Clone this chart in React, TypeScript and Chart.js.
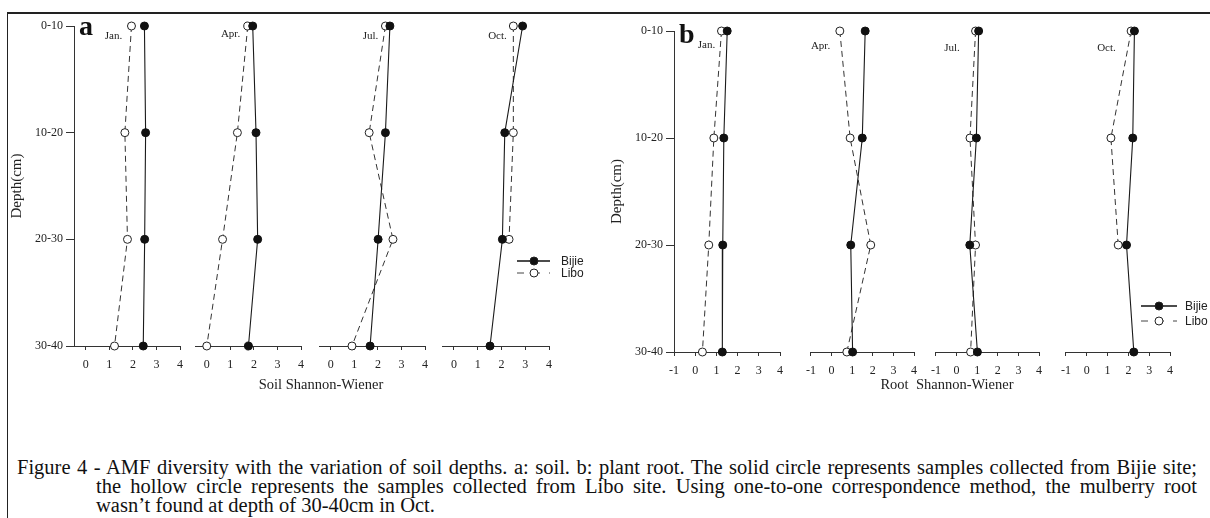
import React, { useEffect, useRef } from "react";
import { Chart, registerables } from "chart.js";

Chart.register(...registerables);

// ---------- data ----------
const depthLabels = ["0-10", "10-20", "20-30", "30-40"];
const monthLabels = ["Jan.", "Apr.", "Jul.", "Oct."];
const seriesNames = ["Bijie", "Libo"];
const soilTicks = [0, 1, 2, 3, 4];
const rootTicks = [-1, 0, 1, 2, 3, 4];

const soilBijieJan = [2.49, 2.54, 2.5, 2.44];
const soilLiboJan = [1.94, 1.66, 1.77, 1.22];
const soilBijieApr = [1.95, 2.09, 2.16, 1.77];
const soilLiboApr = [1.74, 1.3, 0.67, 0.0];
const soilBijieJul = [2.51, 2.32, 2.01, 1.67];
const soilLiboJul = [2.32, 1.63, 2.64, 0.9];
const soilBijieOct = [2.89, 2.14, 2.04, 1.52];
const soilLiboOct = [2.5, 2.5, 2.32, null];

const rootBijieJan = [1.51, 1.35, 1.3, 1.28];
const rootLiboJan = [1.24, 0.88, 0.64, 0.34];
const rootBijieApr = [1.63, 1.49, 0.93, 1.02];
const rootLiboApr = [0.4, 0.9, 1.9, 0.74];
const rootBijieJul = [1.07, 0.96, 0.64, 1.01];
const rootLiboJul = [0.92, 0.65, 0.92, 0.68];
const rootBijieOct = [2.29, 2.21, 1.91, 2.26];
const rootLiboOct = [2.13, 1.16, 1.51, null];

const yAxisTitle = "Depth(cm)";
const soilTitle = "Soil Shannon-Wiener";
const rootTitle = "Root  Shannon-Wiener";
const captionLines = [
  "Figure 4 - AMF diversity with the variation of soil depths. a: soil. b: plant root. The solid circle represents samples collected from Bijie site;",
  "the hollow circle represents the samples collected from Libo site. Using one-to-one correspondence method, the mulberry root",
  "wasn\u2019t found at depth of 30-40cm in Oct.",
];

// ---------- layout ----------
const SERIF = '"Liberation Serif", "Times New Roman", serif';
const SANS = '"Liberation Sans", Arial, sans-serif';
const AREA_W = 107;
const Y_W = 66;
const X_H = 40;
const PAD_T = 12;

const panels = [
  {
    letter: "a",
    xMin: -0.5,
    ticks: soilTicks,
    lefts: [74, 195, 319, 442],
    top: 26,
    bottom: 346,
    bijie: [soilBijieJan, soilBijieApr, soilBijieJul, soilBijieOct],
    libo: [soilLiboJan, soilLiboApr, soilLiboJul, soilLiboOct],
    legend: { x0: 517, x1: 550, xm: 534, xt: 561, ys: [261, 273] },
    padR: 48,
    months: [[113.5, 35], [230.5, 33], [370.5, 35], [497.5, 35]],
    letterPos: [79, 11.6],
    title: soilTitle,
    titlePos: [321, 384],
  },
  {
    letter: "b",
    xMin: -1,
    ticks: rootTicks,
    lefts: [674, 808, 933, 1063],
    top: 31,
    bottom: 352,
    bijie: [rootBijieJan, rootBijieApr, rootBijieJul, rootBijieOct],
    libo: [rootLiboJan, rootLiboApr, rootLiboJul, rootLiboOct],
    legend: { x0: 1141, x1: 1177, xm: 1159, xt: 1185, ys: [306, 321] },
    padR: 41,
    months: [[706.5, 44], [820.5, 45], [952, 47], [1106.5, 47]],
    letterPos: [679, 19.6],
    title: rootTitle,
    titlePos: [947, 384],
  },
];

type Spec = {
  key: string;
  left: number;
  top: number;
  width: number;
  height: number;
  first: boolean;
  padL: number;
  padR: number;
  xMin: number;
  ticks: number[];
  bijie: (number | null)[];
  libo: (number | null)[];
  legend: any;
  areaH: number;
};

const specs: Spec[] = [];
panels.forEach((p) => {
  p.lefts.forEach((l, i) => {
    const first = i === 0;
    const last = i === 3;
    const padL = first ? 0 : 10;
    const padR = last ? p.padR : 10;
    const yw = first ? Y_W : 0;
    const areaH = p.bottom - p.top;
    specs.push({
      key: p.letter + i,
      left: l - yw - padL,
      top: p.top - PAD_T,
      width: padL + yw + AREA_W + padR,
      height: PAD_T + areaH + X_H + 2,
      first,
      padL,
      padR,
      xMin: p.xMin,
      ticks: p.ticks,
      bijie: p.bijie[i],
      libo: p.libo[i],
      legend: last ? p.legend : null,
      areaH,
    });
  });
});

function toPoints(arr: (number | null)[]) {
  const out: { x: number; y: number }[] = [];
  arr.forEach((v, i) => {
    if (v !== null && v !== undefined) out.push({ x: v, y: i });
  });
  return out;
}

function legendPlugin(spec: Spec) {
  return {
    id: "miniLegend",
    afterDraw(chart: any) {
      const lg = spec.legend;
      if (!lg) return;
      const ctx = chart.ctx;
      ctx.save();
      seriesNames.forEach((name, i) => {
        const y = lg.ys[i] - spec.top;
        const x0 = lg.x0 - spec.left;
        const x1 = lg.x1 - spec.left;
        const xm = lg.xm - spec.left;
        ctx.beginPath();
        ctx.lineWidth = i === 0 ? 1.6 : 1;
        ctx.strokeStyle = i === 0 ? "#111" : "#444";
        ctx.setLineDash(i === 0 ? [] : [7, 9]);
        ctx.moveTo(x0, y);
        ctx.lineTo(x1, y);
        ctx.stroke();
        ctx.setLineDash([]);
        ctx.beginPath();
        ctx.arc(xm, y, 4, 0, Math.PI * 2);
        ctx.fillStyle = i === 0 ? "#111" : "#fff";
        ctx.fill();
        ctx.lineWidth = 1;
        ctx.strokeStyle = "#222";
        ctx.stroke();
        ctx.fillStyle = "#222";
        ctx.font = `12px ${SANS}`;
        ctx.textBaseline = "middle";
        ctx.textAlign = "left";
        ctx.fillText(name, lg.xt - spec.left, y + 0.5);
      });
      ctx.restore();
    },
  };
}

function makeChart(canvas: HTMLCanvasElement, spec: Spec) {
  return new Chart(canvas, {
    type: "scatter",
    data: {
      datasets: [
        {
          label: seriesNames[0],
          data: toPoints(spec.bijie),
          showLine: true,
          borderColor: "#1a1a1a",
          borderWidth: 1.1,
          pointRadius: 4,
          pointHoverRadius: 4,
          pointBackgroundColor: "#111",
          pointBorderColor: "#111",
          pointBorderWidth: 1,
          clip: false,
        } as any,
        {
          label: seriesNames[1],
          data: toPoints(spec.libo),
          showLine: true,
          borderColor: "#333",
          borderWidth: 1,
          borderDash: [6, 4],
          pointRadius: 4,
          pointHoverRadius: 4,
          pointBackgroundColor: "#fff",
          pointBorderColor: "#222",
          pointBorderWidth: 1,
          clip: false,
        } as any,
      ],
    },
    options: {
      animation: false,
      responsive: false,
      events: [],
      layout: { padding: { left: spec.padL, right: spec.padR, top: PAD_T, bottom: 2 } },
      plugins: { legend: { display: false }, tooltip: { enabled: false } },
      scales: {
        x: {
          type: "linear",
          min: spec.xMin,
          max: 4,
          afterBuildTicks: (s: any) => {
            s.ticks = spec.ticks.map((v) => ({ value: v }));
          },
          afterFit: (s: any) => {
            s.height = X_H;
          },
          grid: { drawOnChartArea: false, drawTicks: true, tickLength: 4, color: "#333", lineWidth: 1 },
          border: { display: true, color: "#333", width: 1 },
          ticks: {
            font: { family: SERIF, size: 12 },
            color: "#222",
            padding: 8,
            maxRotation: 0,
            autoSkip: false,
          },
        },
        y: {
          type: "linear",
          reverse: true,
          min: 0,
          max: 3,
          display: spec.first,
          afterBuildTicks: (s: any) => {
            s.ticks = depthLabels.map((_, i) => ({ value: i }));
          },
          afterFit: (s: any) => {
            s.width = spec.first ? Y_W : 0;
          },
          grid: { drawOnChartArea: false, drawTicks: true, tickLength: 8, color: "#333", lineWidth: 1 },
          border: { display: true, color: "#333", width: 1 },
          ticks: {
            font: { family: SERIF, size: 12 },
            color: "#222",
            padding: 3,
            callback: (v: any) => depthLabels[v as number] ?? "",
          },
          title: {
            display: true,
            text: yAxisTitle,
            font: { family: SERIF, size: 15 },
            color: "#222",
            padding: 0,
          },
        },
      },
    },
    plugins: [legendPlugin(spec)],
  } as any);
}

function Text({ x, y, children, style }: any) {
  return (
    <div
      style={{
        position: "absolute",
        left: x,
        top: y,
        transform: "translate(-50%, -50%)",
        whiteSpace: "pre",
        lineHeight: 1,
        fontFamily: SERIF,
        color: "#222",
        ...style,
      }}
    >
      {children}
    </div>
  );
}

export default function App() {
  const refs = useRef<(HTMLCanvasElement | null)[]>([]);

  useEffect(() => {
    const charts = specs.map((s, i) => makeChart(refs.current[i] as HTMLCanvasElement, s));
    return () => charts.forEach((c) => c.destroy());
  }, []);

  return (
    <div
      style={{
        position: "absolute",
        left: 0,
        top: 0,
        width: 1210,
        height: 518,
        background: "#fff",
        overflow: "hidden",
      }}
    >
      <div
        style={{
          position: "absolute",
          left: 7,
          top: 12,
          width: 1210,
          height: 520,
          borderTop: "2px solid #222",
          borderLeft: "1.5px solid #222",
          boxSizing: "border-box",
        }}
      />
      {specs.map((s, i) => (
        <canvas
          key={s.key}
          ref={(el) => {
            refs.current[i] = el;
          }}
          width={s.width}
          height={s.height}
          style={{ position: "absolute", left: s.left, top: s.top, width: s.width, height: s.height }}
        />
      ))}
      {panels.map((p) => (
        <React.Fragment key={p.letter}>
          <div
            style={{
              position: "absolute",
              left: p.letterPos[0],
              top: p.letterPos[1],
              fontFamily: SERIF,
              fontWeight: "bold",
              fontSize: 28,
              lineHeight: "28px",
              color: "#111",
            }}
          >
            {p.letter}
          </div>
          {p.months.map((m, i) => (
            <Text key={i} x={m[0]} y={m[1]} style={{ fontSize: 11 }}>
              {monthLabels[i]}
            </Text>
          ))}
          <Text x={p.titlePos[0]} y={p.titlePos[1]} style={{ fontSize: 14.5 }}>
            {p.title}
          </Text>
        </React.Fragment>
      ))}
      {captionLines.map((line, i) => (
        <div
          key={i}
          style={{
            position: "absolute",
            left: i === 0 ? 17 : 96,
            top: 457 + i * 19,
            width: i === 0 ? 1180 : 1101,
            fontFamily: SERIF,
            fontSize: 20.5,
            lineHeight: "20px",
            color: "#111",
            whiteSpace: "normal",
            textAlign: i < 2 ? "justify" : "left",
            textAlignLast: i < 2 ? "justify" : "left",
          } as any}
        >
          {line}
        </div>
      ))}
    </div>
  );
}
